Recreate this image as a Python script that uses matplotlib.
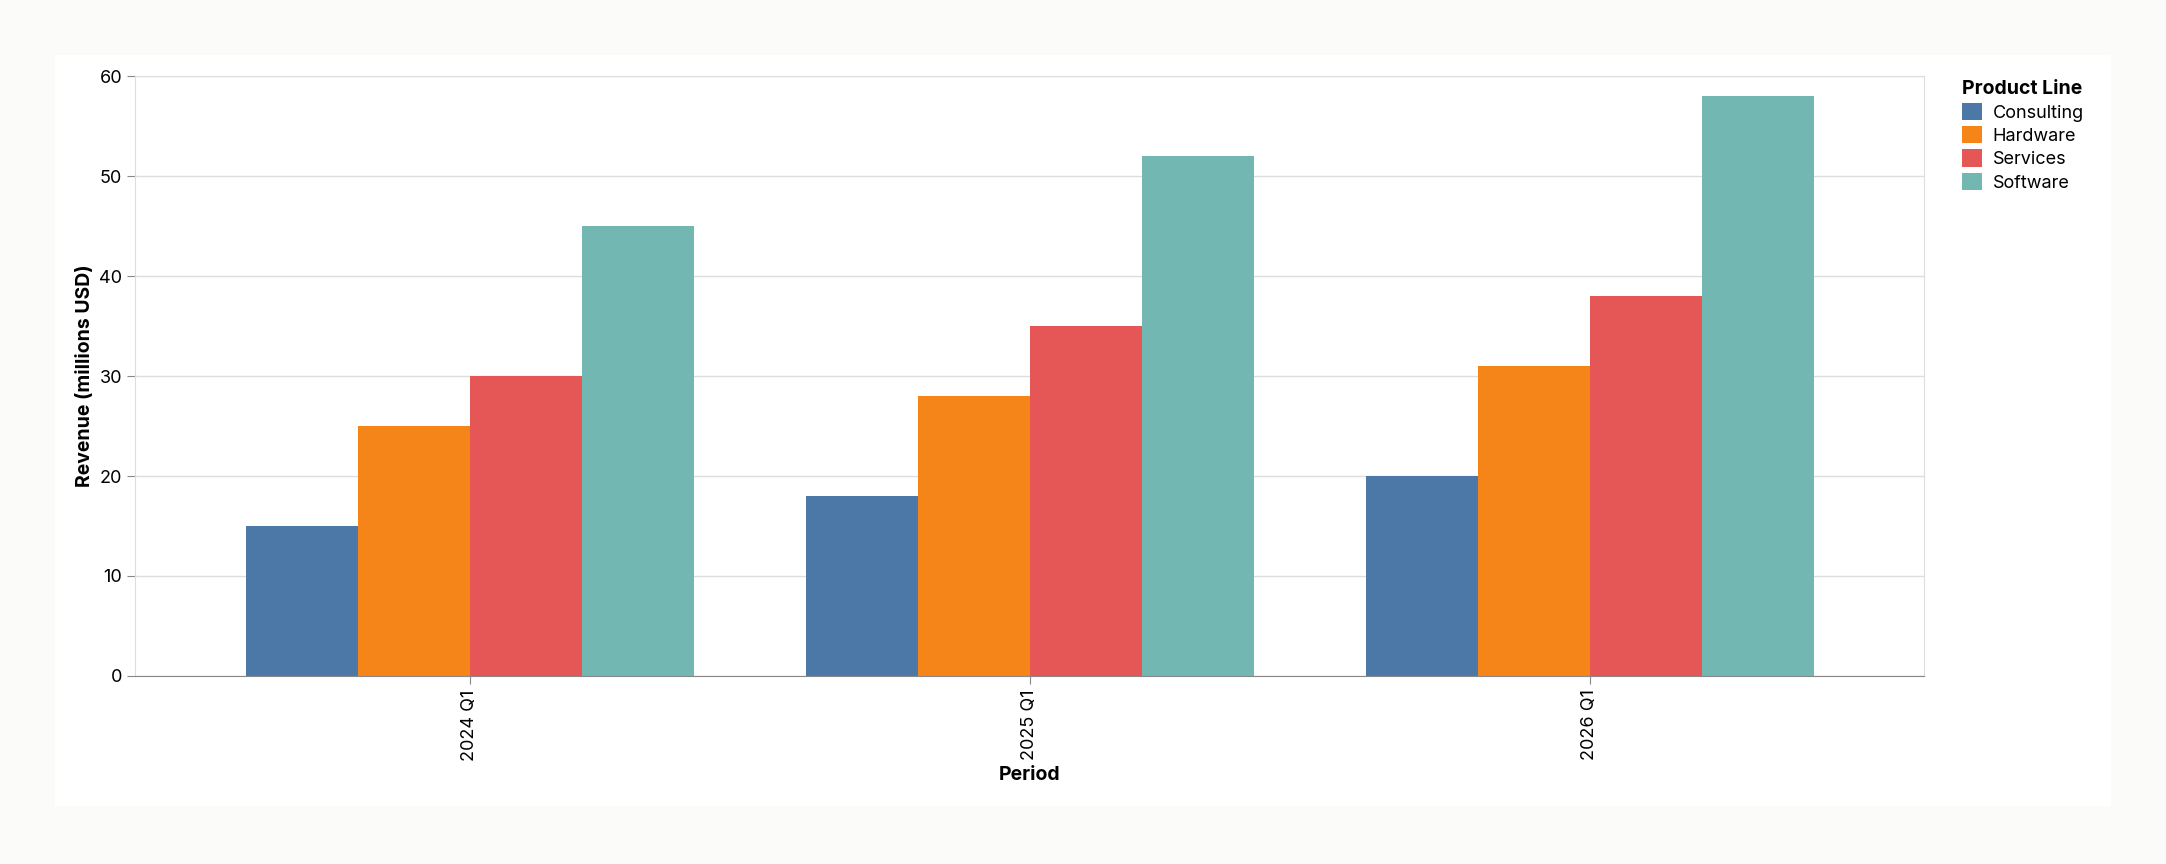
import matplotlib.pyplot as plt
import matplotlib.patches as mpatches
import numpy as np

periods = ["2024 Q1", "2025 Q1", "2026 Q1"]
products = ["Consulting", "Hardware", "Services", "Software"]
values = {
    "Consulting": [15, 18, 20],
    "Hardware": [25, 28, 31],
    "Services": [30, 35, 38],
    "Software": [45, 52, 58],
}
colors = ["#4c78a8", "#f58518", "#e45756", "#72b7b2"]

plt.rcParams['font.family'] = ['Inter', 'DejaVu Sans']
fig = plt.figure(figsize=(21.66, 8.64), dpi=100)
fig.patch.set_facecolor("#fbfbf9")
fig.add_artist(mpatches.Rectangle((40/1568, 1-583/625), (1528-40)/1568, (583-40)/625,
                                  transform=fig.transFigure, facecolor="white", edgecolor="none", zorder=0))
ax = fig.add_axes([98/1568, 1-489/625, (1393-98)/1568, (489-55)/625])
ax.set_facecolor("white")
x = np.arange(len(periods))
w = 0.2
for i, p in enumerate(products):
    ax.bar(x + (i - 1.5) * w, values[p], width=w, color=colors[i], label=p, zorder=2)
ax.set_xlim(-0.597, 2.597)
ax.set_ylim(0, 60)
ax.set_yticks(range(0, 61, 10))
ax.set_xticks(x)
ax.set_xticklabels(periods, rotation=90, fontsize=13)
ax.tick_params(axis='y', labelsize=13, color="#888888", length=6)
ax.tick_params(axis='x', color="#888888", length=6)
ax.grid(axis='y', color="#dddddd", lw=1, zorder=0)
for s in ["top", "right", "left"]:
    ax.spines[s].set_color("#dddddd")
ax.spines["bottom"].set_color("#888888")
ax.set_ylabel("Revenue (millions USD)", fontsize=14, fontweight="bold")
ax.set_xlabel("Period", fontsize=14, fontweight="bold")
leg = ax.legend(title="Product Line", loc="upper left", bbox_to_anchor=(1.012, 1.02),
                frameon=False, fontsize=13, handlelength=1.1, handleheight=1.1,
                handletextpad=0.6, labelspacing=0.25, alignment="left")
leg.get_title().set_fontsize(14)
leg.get_title().set_fontweight("bold")
fig.savefig("out.png", dpi=100, facecolor=fig.get_facecolor())
